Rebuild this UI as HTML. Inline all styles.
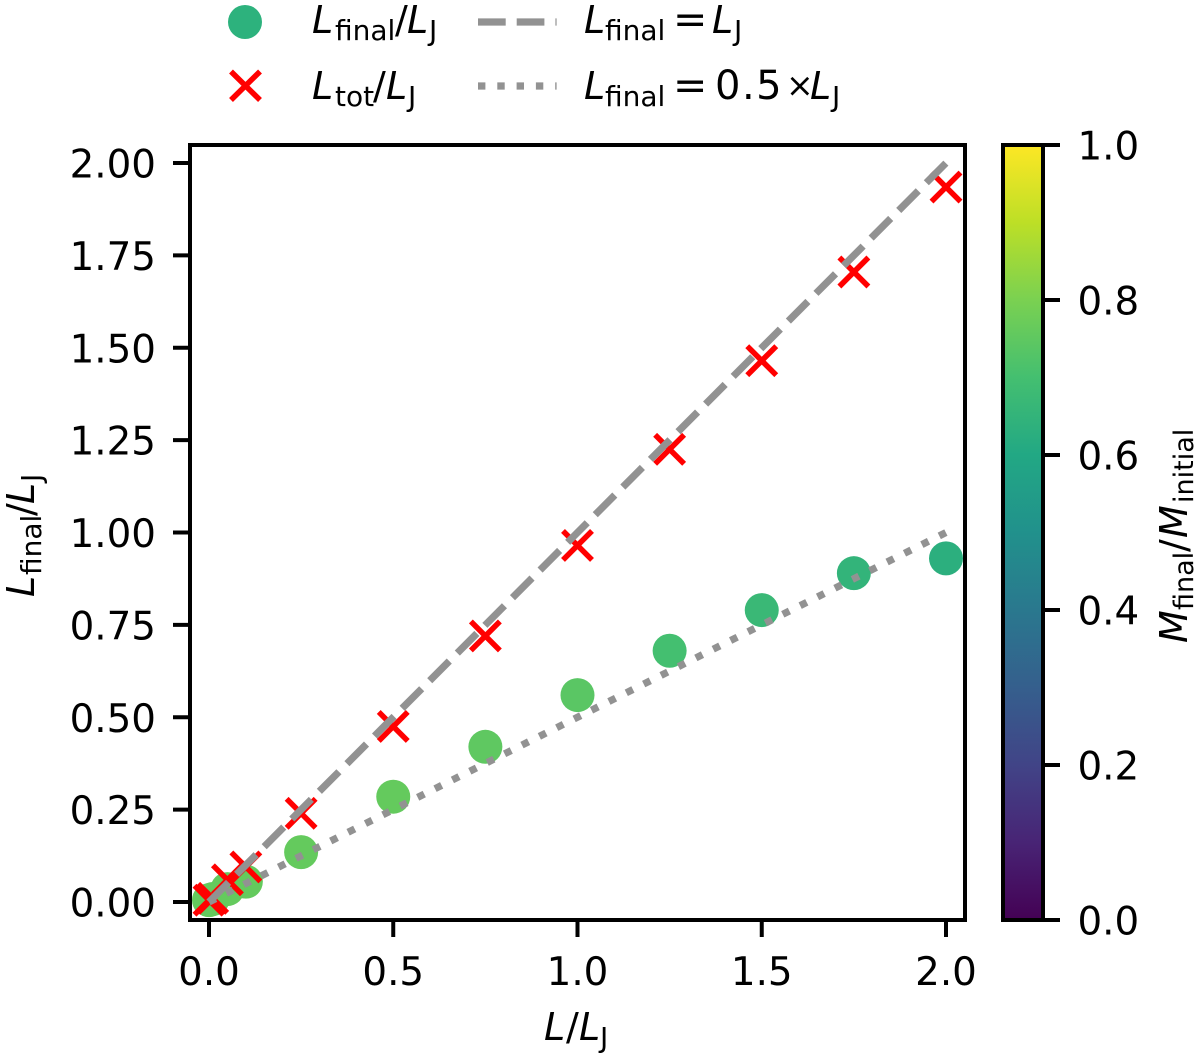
<!DOCTYPE html>
<html lang="en">
<head>
<meta charset="utf-8">
<title>Final versus initial length chart</title>
<style>
html,body{margin:0;padding:0;background:#fff;}
svg{display:block;}
text{font-family:"DejaVu Sans","Liberation Sans",sans-serif;fill:#000;}
.m{font-style:italic;}
</style>
</head>
<body>
<svg id="chart" xmlns="http://www.w3.org/2000/svg" width="1200" height="1058" viewBox="0 0 1200 1058">
  <defs>
    <linearGradient id="viridis" x1="0" y1="1" x2="0" y2="0">
      <stop offset="0" stop-color="#440154"/>
      <stop offset="0.1" stop-color="#482475"/>
      <stop offset="0.2" stop-color="#414487"/>
      <stop offset="0.3" stop-color="#355f8d"/>
      <stop offset="0.4" stop-color="#2a788e"/>
      <stop offset="0.5" stop-color="#21918c"/>
      <stop offset="0.6" stop-color="#22a884"/>
      <stop offset="0.7" stop-color="#44bf70"/>
      <stop offset="0.8" stop-color="#7ad151"/>
      <stop offset="0.9" stop-color="#bddf26"/>
      <stop offset="1" stop-color="#fde725"/>
    </linearGradient>
    <clipPath id="plot-clip"><rect x="190" y="145" width="775" height="775"/></clipPath>
  </defs>

  <g id="legend">
    <circle cx="245" cy="22" r="17" fill="#2db27d"/>
    <text y="33" font-size="38"><tspan class="m" x="312">L</tspan><tspan font-size="28" x="335" dy="7">final</tspan><tspan x="395" dy="-7">/</tspan><tspan class="m" x="407">L</tspan><tspan font-size="28" x="429" dy="7">J</tspan></text>
    <line x1="478" y1="22" x2="556.6" y2="22" stroke="#929292" stroke-width="7.2" stroke-dasharray="27.7 11"/>
    <text y="33" font-size="38"><tspan class="m" x="584">L</tspan><tspan font-size="28" x="605" dy="7">final</tspan><tspan font-size="41" x="673" dy="-7">=</tspan><tspan class="m" x="712">L</tspan><tspan font-size="28" x="734" dy="7">J</tspan></text>
    <g stroke="#ff0000" stroke-width="5.5" fill="none">
      <line x1="231" y1="71.5" x2="260" y2="100"/>
      <line x1="231" y1="100" x2="260" y2="71.5"/>
    </g>
    <text y="99" font-size="38"><tspan class="m" x="312">L</tspan><tspan font-size="28" x="335" dy="7">tot</tspan><tspan x="373" dy="-7">/</tspan><tspan class="m" x="386">L</tspan><tspan font-size="28" x="408" dy="7">J</tspan></text>
    <line x1="478" y1="86" x2="556.6" y2="86" stroke="#929292" stroke-width="7.2" stroke-dasharray="7.4 11.9"/>
    <text y="99" font-size="38"><tspan class="m" x="584">L</tspan><tspan font-size="28" x="605" dy="7">final</tspan><tspan font-size="41" x="673" dy="-7">=</tspan><tspan font-size="40" x="715" letter-spacing="1.5">0.5</tspan><tspan font-size="33" x="786" dy="-2.5">×</tspan><tspan class="m" x="810" dy="2.5">L</tspan><tspan font-size="28" x="832" dy="7">J</tspan></text>
  </g>

  <g id="plot" clip-path="url(#plot-clip)"></g>
  <rect x="190" y="145" width="775" height="775" fill="none" stroke="#000" stroke-width="4"/>
  <g id="xticks"></g>
  <g id="yticks"></g>

  <text y="1040" font-size="38"><tspan class="m" x="544">L</tspan><tspan x="566">/</tspan><tspan class="m" x="579">L</tspan><tspan font-size="28" x="600" dy="7">J</tspan></text>
  <text transform="translate(34 597) rotate(-90)" font-size="38"><tspan class="m" x="0">L</tspan><tspan font-size="28" x="22" dy="7">final</tspan><tspan x="81" dy="-7">/</tspan><tspan class="m" x="93">L</tspan><tspan font-size="28" x="115" dy="7">J</tspan></text>

  <rect x="1003" y="145" width="40" height="775" fill="url(#viridis)" stroke="#000" stroke-width="4"/>
  <g id="cticks"></g>
  <text transform="translate(1187 643) rotate(-90)" font-size="38"><tspan class="m" x="0">M</tspan><tspan font-size="27" x="33" dy="6">final</tspan><tspan x="91" dy="-6">/</tspan><tspan class="m" x="105">M</tspan><tspan font-size="27" x="140" dy="6">initial</tspan></text>
</svg>
<script>
const initialRatio = [0, 0.01, 0.05, 0.1, 0.25, 0.5, 0.75, 1, 1.25, 1.5, 1.75, 2];
const finalRatio = [0.005, 0.008, 0.035, 0.055, 0.135, 0.285, 0.42, 0.56, 0.68, 0.79, 0.89, 0.93];
const totalRatio = [0.005, 0.01, 0.06, 0.095, 0.24, 0.475, 0.72, 0.965, 1.225, 1.465, 1.705, 1.935];
const massRatio = [0.76, 0.76, 0.76, 0.76, 0.76, 0.76, 0.75, 0.74, 0.7, 0.67, 0.65, 0.63];
const referenceX = [0, 2];
const xTicks = [0, 0.5, 1, 1.5, 2];
const xTickLabels = ['0.0', '0.5', '1.0', '1.5', '2.0'];
const yTicks = [0, 0.25, 0.5, 0.75, 1, 1.25, 1.5, 1.75, 2];
const yTickLabels = ['0.00', '0.25', '0.50', '0.75', '1.00', '1.25', '1.50', '1.75', '2.00'];
const colorTicks = [0, 0.2, 0.4, 0.6, 0.8, 1];
const colorTickLabels = ['0.0', '0.2', '0.4', '0.6', '0.8', '1.0'];
const viridisColors = ['#440154', '#482475', '#414487', '#355f8d', '#2a788e', '#21918c', '#22a884', '#44bf70', '#7ad151', '#bddf26', '#fde725'];

const NS = 'http://www.w3.org/2000/svg';
const scaleX = v => 209 + v * 368.5;
const scaleY = v => 902 - v * 369.5;
const scaleC = v => 920 - v * 775;

function hexToRgb(h) {
  return [1, 3, 5].map(i => parseInt(h.slice(i, i + 2), 16));
}
function viridis(v) {
  const t = Math.max(0, Math.min(1, v)) * (viridisColors.length - 1);
  const i = Math.min(Math.floor(t), viridisColors.length - 2);
  const a = hexToRgb(viridisColors[i]);
  const b = hexToRgb(viridisColors[i + 1]);
  const c = a.map((p, k) => Math.round(p + (b[k] - p) * (t - i)));
  return 'rgb(' + c.join(',') + ')';
}
function make(tag, attrs, parent) {
  const el = document.createElementNS(NS, tag);
  Object.keys(attrs).forEach(k => el.setAttribute(k, attrs[k]));
  parent.appendChild(el);
  return el;
}

const plot = document.getElementById('plot');
initialRatio.forEach((x, i) => {
  const el = make('circle', {cx: scaleX(x), cy: scaleY(finalRatio[i]), r: 17, fill: viridis(massRatio[i])}, plot);
  
  
});
initialRatio.forEach((x, i) => {
  const cx = scaleX(x);
  const cy = scaleY(totalRatio[i]);
  const g = make('g', {stroke: '#ff0000', 'stroke-width': 5.5}, plot);
  
  
  make('line', {x1: cx - 14.5, y1: cy - 14.5, x2: cx + 14.5, y2: cy + 14.5}, g);
  make('line', {x1: cx - 14.5, y1: cy + 14.5, x2: cx + 14.5, y2: cy - 14.5}, g);
});
const equalLine = make('line', {x1: scaleX(referenceX[0]), y1: scaleY(referenceX[0]), x2: scaleX(referenceX[1]), y2: scaleY(referenceX[1]), stroke: '#929292', 'stroke-width': 7.2, 'stroke-dasharray': '27.7 11.37'}, plot);


const halfLine = make('line', {x1: scaleX(referenceX[0]), y1: scaleY(referenceX[0] * 0.5), x2: scaleX(referenceX[1]), y2: scaleY(referenceX[1] * 0.5), stroke: '#929292', 'stroke-width': 7.2, 'stroke-dasharray': '7.4 12.05'}, plot);



const xGroup = document.getElementById('xticks');
xTicks.forEach((v, i) => {
  const x = scaleX(v);
  const tick = make('line', {x1: x, y1: 920, x2: x, y2: 937, stroke: '#000', 'stroke-width': 4}, xGroup);
  
  
  const label = make('text', {x: x, y: 985, 'font-size': 38.8, 'text-anchor': 'middle'}, xGroup);
  
  
  label.textContent = xTickLabels[i];
});
const yGroup = document.getElementById('yticks');
yTicks.forEach((v, i) => {
  const y = scaleY(v);
  const tick = make('line', {x1: 173, y1: y, x2: 190, y2: y, stroke: '#000', 'stroke-width': 4}, yGroup);
  
  
  const label = make('text', {x: 156, y: y + 14.5, 'font-size': 38.8, 'text-anchor': 'end'}, yGroup);
  
  
  label.textContent = yTickLabels[i];
});
const cGroup = document.getElementById('cticks');
colorTicks.forEach((v, i) => {
  const y = scaleC(v);
  const tick = make('line', {x1: 1043, y1: y, x2: 1060, y2: y, stroke: '#000', 'stroke-width': 4}, cGroup);
  
  
  const label = make('text', {x: 1077.5, y: y + 14.5, 'font-size': 38.8}, cGroup);
  
  
  label.textContent = colorTickLabels[i];
});
</script>
</body>
</html>
